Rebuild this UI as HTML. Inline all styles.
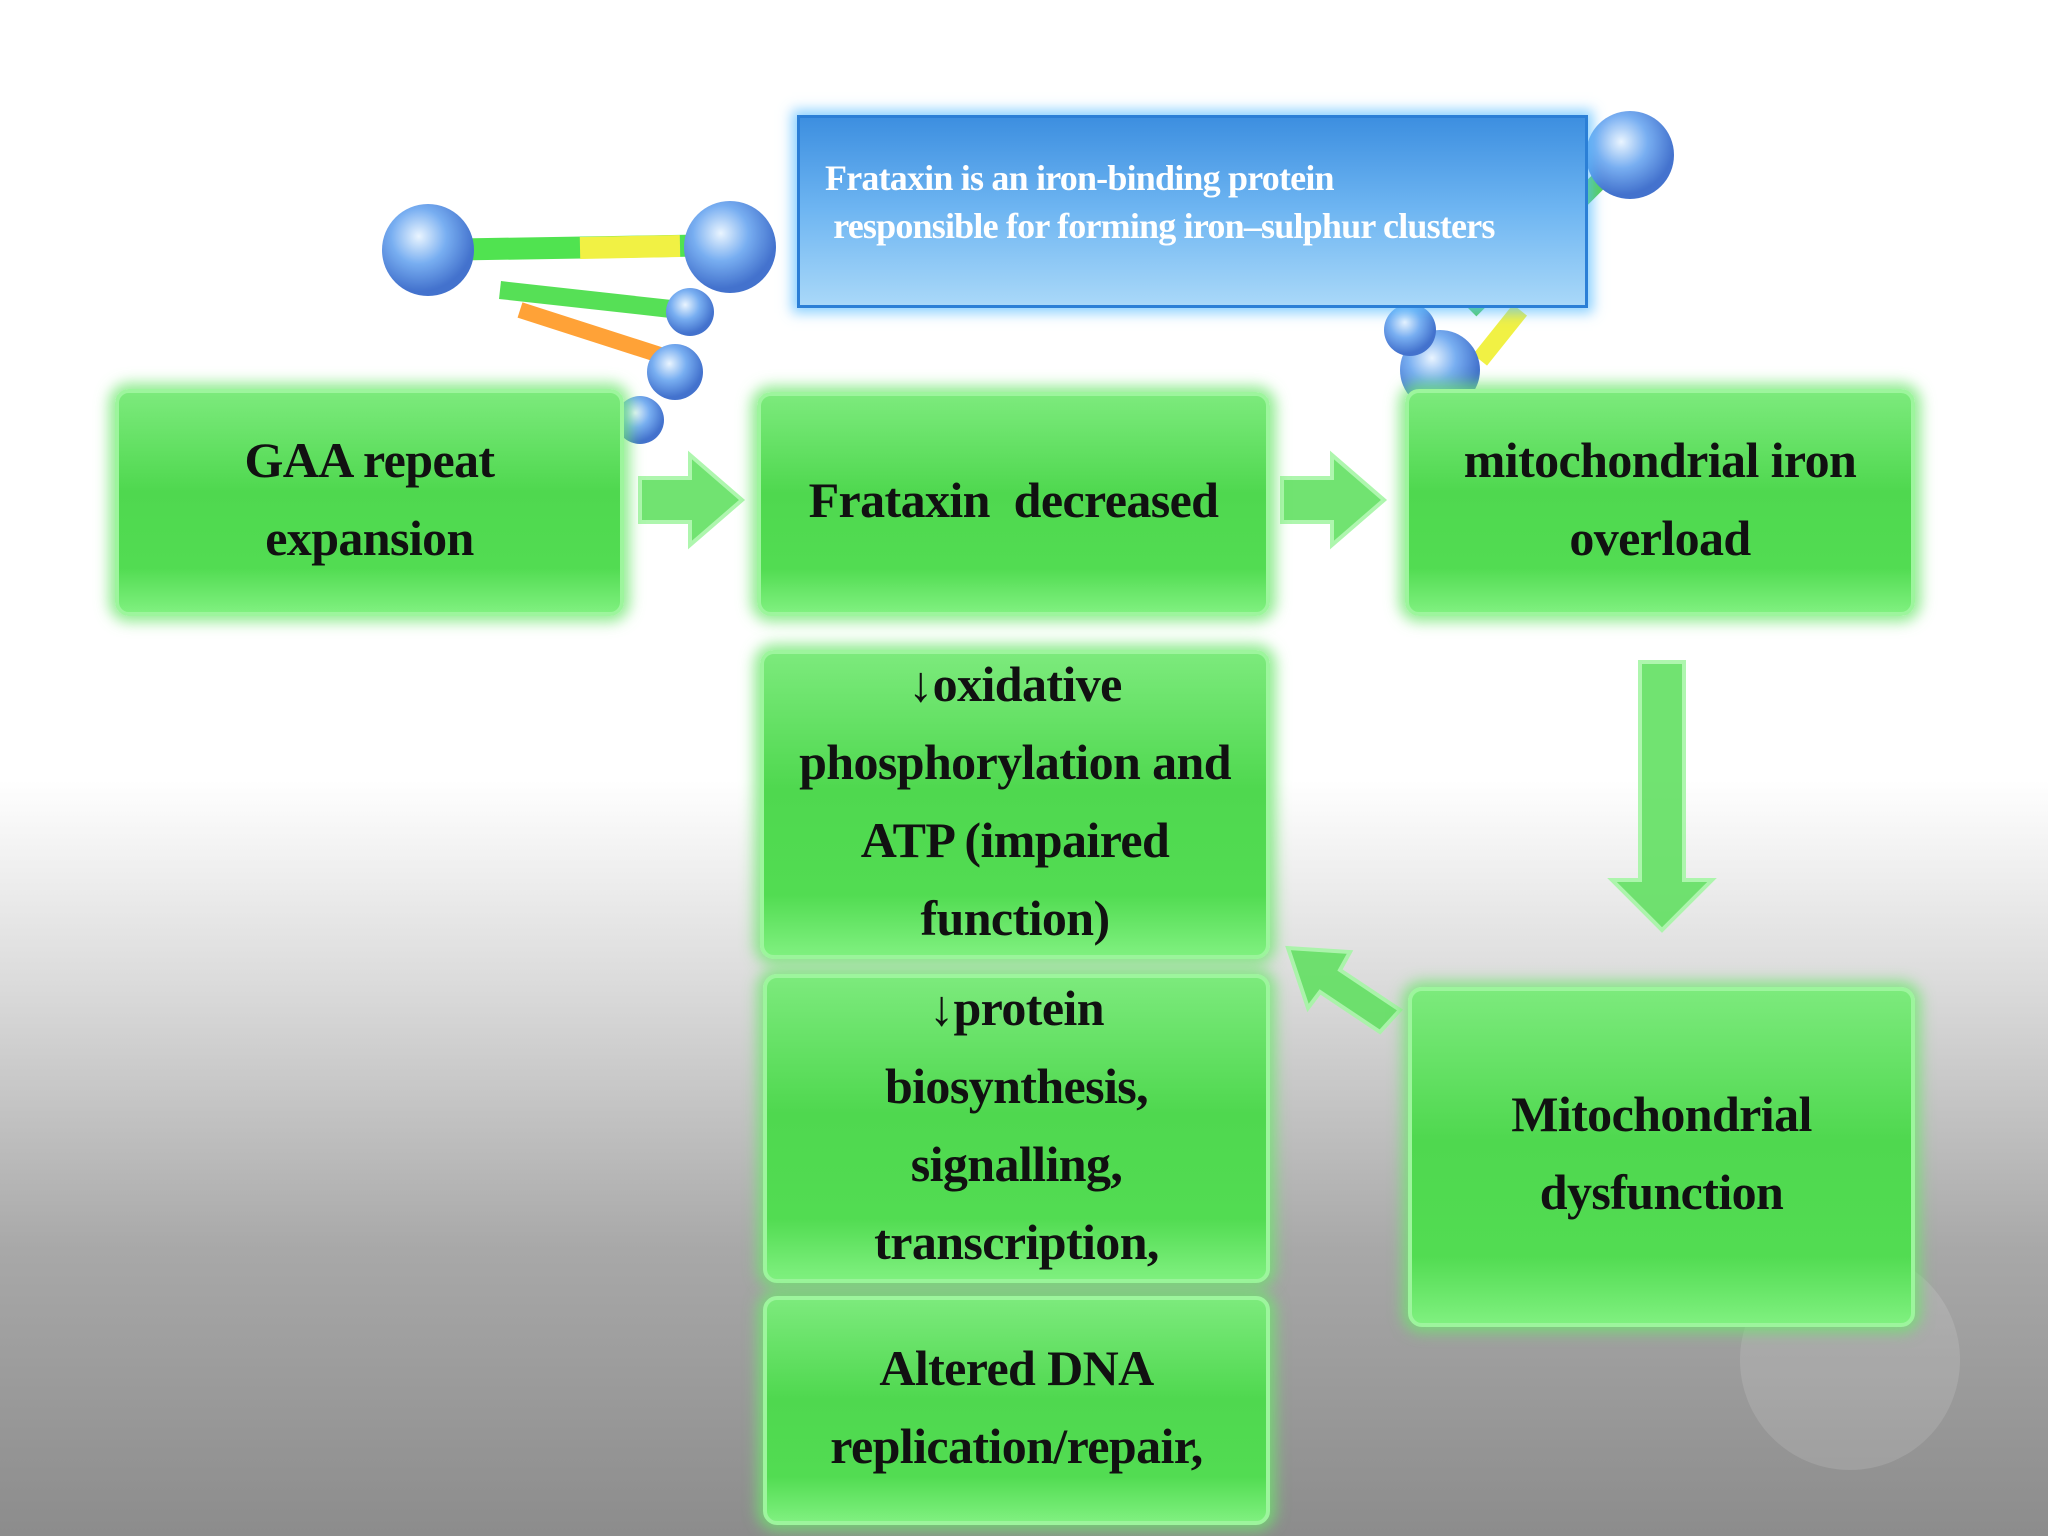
<!DOCTYPE html>
<html><head><meta charset="utf-8"><style>
html,body{margin:0;padding:0}
body{width:2048px;height:1536px;position:relative;overflow:hidden;
background:linear-gradient(to bottom,#ffffff 0px,#ffffff 780px,#d8d8d8 1000px,#a8a8a8 1250px,#8c8c8c 1536px);
font-family:"Liberation Serif",serif;}
.box{position:absolute;box-sizing:border-box;border-radius:14px;
background:linear-gradient(to bottom,#7cea7c 0%,#4fd84f 45%,#52dc52 80%,#7ff07f 100%);
border:4px solid #9df59d;box-shadow:0 0 14px 6px rgba(110,230,110,0.75);
display:flex;align-items:center;justify-content:center;text-align:center;
font-weight:bold;font-size:50px;letter-spacing:-0.6px;line-height:78px;color:#111;padding-bottom:8px;}
.blue{position:absolute;left:797px;top:115px;width:791px;height:193px;box-sizing:border-box;
background:linear-gradient(to bottom,#3d8fe0,#6fb6f2 50%,#a9d8f8);border:3px solid #2b7fd6;
box-shadow:0 0 12px 5px rgba(90,190,255,0.7);color:#fff;font-size:36px;font-weight:bold;letter-spacing:-0.8px;line-height:48px;padding:36px 0 0 25px;}
svg{position:absolute;left:0;top:0}
</style></head><body>
<svg width="2048" height="1536">
<defs><radialGradient id="b" cx="40%" cy="35%" r="60%"><stop offset="0" stop-color="#e8f4ff"/><stop offset="0.5" stop-color="#6aa6f0"/><stop offset="1" stop-color="#2f63c8"/></radialGradient></defs>
<g opacity="0.9">
<line x1="430" y1="250" x2="730" y2="245" stroke="#3ee03e" stroke-width="22"/>
<line x1="580" y1="248" x2="680" y2="246" stroke="#f0f030" stroke-width="22"/>
<line x1="500" y1="290" x2="680" y2="310" stroke="#44dd44" stroke-width="18"/>
<line x1="520" y1="310" x2="660" y2="355" stroke="#ff9922" stroke-width="16"/>
<line x1="1470" y1="310" x2="1630" y2="150" stroke="#44cc44" stroke-width="18"/>
<line x1="1480" y1="360" x2="1520" y2="310" stroke="#f0f030" stroke-width="18"/>
<circle cx="428" cy="250" r="46" fill="url(#b)"/>
<circle cx="730" cy="247" r="46" fill="url(#b)"/>
<circle cx="690" cy="312" r="24" fill="url(#b)"/>
<circle cx="675" cy="372" r="28" fill="url(#b)"/>
<circle cx="640" cy="420" r="24" fill="url(#b)"/>
<circle cx="1630" cy="155" r="44" fill="url(#b)"/>
<circle cx="1440" cy="370" r="40" fill="url(#b)"/>
<circle cx="1410" cy="330" r="26" fill="url(#b)"/>
</g>
<circle cx="1850" cy="1360" r="110" fill="#fff" opacity="0.12"/>
<g fill="#62e062" stroke="#a6f6a6" stroke-width="4" opacity="0.9">
<polygon points="640,478 690,478 690,455 742,500 690,545 690,522 640,522"/>
<polygon points="1282,478 1332,478 1332,455 1384,500 1332,545 1332,522 1282,522"/>
<polygon points="1640,662 1684,662 1684,880 1712,880 1662,930 1612,880 1640,880"/>
<polygon points="1400,1010 1340,970 1350,952 1288,948 1308,1008 1320,992 1380,1032"/>
</g>
</svg>
<div class="blue">Frataxin is an iron-binding protein<br>&nbsp;responsible for forming iron–sulphur clusters</div>
<div class="box" style="left:115px;top:389px;width:509px;height:227px">GAA repeat<br>expansion</div>
<div class="box" style="left:757px;top:392px;width:513px;height:224px">Frataxin&nbsp; decreased</div>
<div class="box" style="left:1405px;top:389px;width:510px;height:227px">mitochondrial iron<br>overload</div>
<div class="box" style="left:760px;top:650px;width:510px;height:309px">↓oxidative<br>phosphorylation and<br>ATP (impaired<br>function)</div>
<div class="box" style="left:763px;top:974px;width:507px;height:309px">↓protein<br>biosynthesis,<br>signalling,<br>transcription,</div>
<div class="box" style="left:763px;top:1296px;width:507px;height:229px">Altered DNA<br>replication/repair,</div>
<div class="box" style="left:1408px;top:987px;width:507px;height:340px">Mitochondrial<br>dysfunction</div>
</body></html>
